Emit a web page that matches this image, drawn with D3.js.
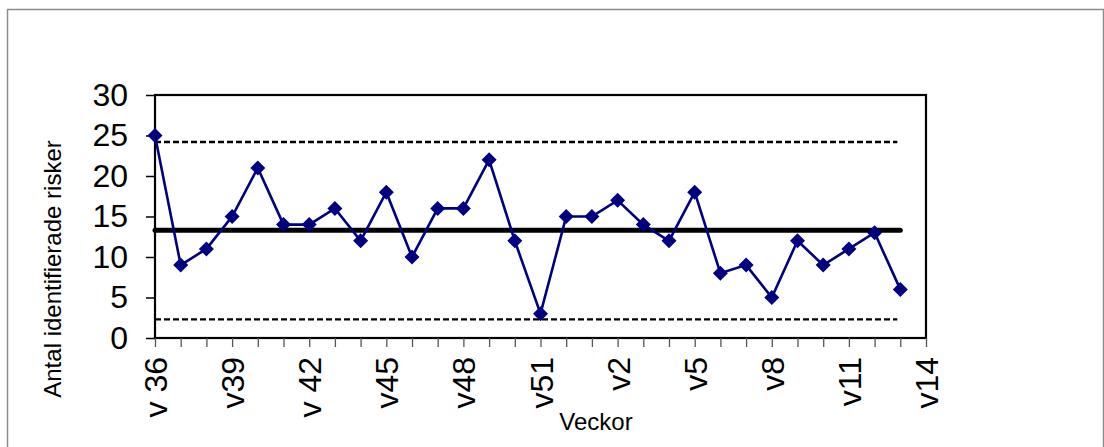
<!DOCTYPE html>
<html>
<head>
<meta charset="utf-8">
<script src="https://cdn.jsdelivr.net/npm/d3@7/dist/d3.min.js"></script>
<style>
  html, body { margin: 0; padding: 0; background: #fff; }
  svg { display: block; font-family: "Liberation Sans", Arial, sans-serif; }
</style>
</head>
<body>
<svg id="chart" width="1104" height="447"></svg>
<script>
// Weeks on the x axis (v36 2004 .. v14 2005)
const weeks = ["v36","v37","v38","v39","v40","v41","v42","v43","v44","v45","v46","v47","v48","v49","v50","v51","v52",
               "v1","v2","v3","v4","v5","v6","v7","v8","v9","v10","v11","v12","v13","v14"];
// Labels printed under every third week
const weekLabels = {"v36":"v 36","v39":"v39","v42":"v 42","v45":"v45","v48":"v48","v51":"v51",
                    "v2":"v2","v5":"v5","v8":"v8","v11":"v11","v14":"v14"};
// Identified risks per week
const riskWeeks = weeks.slice(0, 30);
const risks = [25, 9, 11, 15, 21, 14, 14, 16, 12, 18, 10, 16, 16, 22, 12, 3, 15,
               15, 17, 14, 12, 18, 8, 9, 5, 12, 9, 11, 13, 6];
// Control chart lines
const centerLine = [13.3];
const upperLimit = [24.2];
const lowerLimit = [2.3];
const yTicks = [0, 5, 10, 15, 20, 25, 30];

const svg = d3.select("#chart");

// outer chart border
svg.append("rect")
  .attr("x", 7.5).attr("y", 9.5).attr("width", 1096).attr("height", 460)
  .attr("fill", "none").attr("stroke", "#8c8c8c").attr("stroke-width", 1.5);

const plotLeft = 155, plotRight = 926, plotTop = 95, plotBottom = 338;

const x = d3.scalePoint().domain(weeks).range([plotLeft, plotRight]).padding(0);
const y = d3.scaleLinear().domain([0, 30]).range([plotBottom, plotTop]);

// plot frame
svg.append("rect")
  .attr("x", plotLeft).attr("y", plotTop).attr("width", plotRight - plotLeft).attr("height", plotBottom - plotTop)
  .attr("fill", "none").attr("stroke", "#000").attr("stroke-width", 2.2);

// y axis
const yAxis = svg.append("g")
  .attr("transform", `translate(${plotLeft},0)`)
  .call(d3.axisLeft(y).tickValues(yTicks).tickSize(9).tickPadding(18).tickFormat(d3.format("d")));
yAxis.select(".domain").remove();
yAxis.selectAll(".tick line").attr("stroke", "#000").attr("stroke-width", 1.5);
yAxis.selectAll(".tick text").attr("font-size", 32).attr("fill", "#000")
  .attr("font-family", "'Liberation Sans', Arial, sans-serif");

// x axis
const xAxis = svg.append("g")
  .attr("transform", `translate(0,${plotBottom})`)
  .call(d3.axisBottom(x).tickSize(9).tickFormat(d => weekLabels[d] || ""));
xAxis.select(".domain").remove();
xAxis.selectAll(".tick line").attr("stroke", "#555").attr("stroke-width", 1.3);
xAxis.selectAll(".tick text")
  .attr("font-size", 32).attr("fill", "#000")
  .attr("font-family", "'Liberation Sans', Arial, sans-serif")
  .attr("text-anchor", "end")
  .attr("transform", "rotate(-90)")
  .attr("x", -19).attr("y", 0).attr("dy", "0.36em");

// control lines span from the first to the last measured week
const x0 = x(riskWeeks[0]), x1 = x(riskWeeks[riskWeeks.length - 1]);
svg.append("line")
  .attr("x1", x0).attr("x2", x1 - 3).attr("y1", y(upperLimit[0])).attr("y2", y(upperLimit[0]))
  .attr("stroke", "#000").attr("stroke-width", 2.4).attr("stroke-dasharray", "6,3");
svg.append("line")
  .attr("x1", x0).attr("x2", x1 - 3).attr("y1", y(lowerLimit[0])).attr("y2", y(lowerLimit[0]))
  .attr("stroke", "#000").attr("stroke-width", 2.4).attr("stroke-dasharray", "6,3");
svg.append("line")
  .attr("x1", x0).attr("x2", x1).attr("y1", y(centerLine[0])).attr("y2", y(centerLine[0]))
  .attr("stroke", "#000").attr("stroke-width", 5).attr("stroke-linecap", "round");

// data series
const data = riskWeeks.map((w, i) => ({ w, v: risks[i] }));
svg.append("path")
  .datum(data)
  .attr("fill", "none").attr("stroke", "#000080").attr("stroke-width", 2.6)
  .attr("d", d3.line().x(d => x(d.w)).y(d => y(d.v)));

svg.append("g").selectAll("path.marker")
  .data(data).join("path")
  .attr("class", "marker")
  .attr("transform", d => `translate(${x(d.w)},${y(d.v)})`)
  .attr("d", "M0,-7.5L7.5,0L0,7.5L-7.5,0Z")
  .attr("fill", "#000080");

// axis titles
svg.append("text")
  .attr("transform", "translate(61,269) rotate(-90)")
  .attr("text-anchor", "middle")
  .attr("font-size", 24).attr("fill", "#000")
  .text("Antal identifierade risker");
svg.append("text")
  .attr("x", 596).attr("y", 430)
  .attr("text-anchor", "middle")
  .attr("font-size", 24).attr("fill", "#000")
  .text("Veckor");
</script>
</body>
</html>
